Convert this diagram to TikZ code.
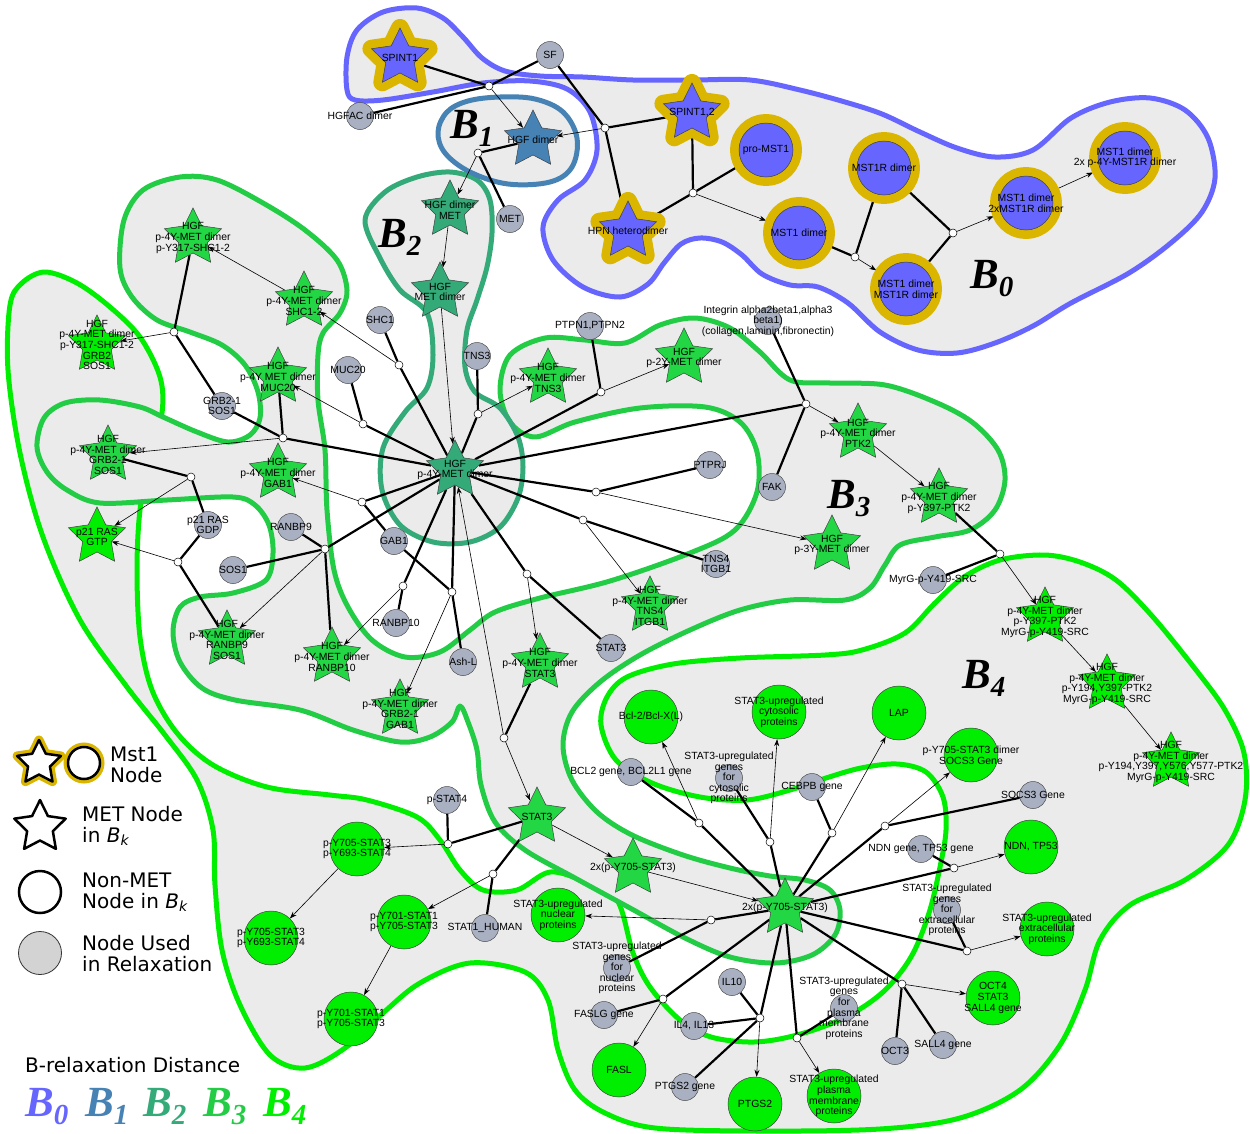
\documentclass[tikz,border=0pt]{standalone}
\usepackage{fontspec}
\setmainfont{Liberation Sans}
\newfontfamily\legfont{DejaVu Sans}
\newfontfamily\bfam{Liberation Serif}
\usetikzlibrary{shapes.geometric,arrows.meta}
\definecolor{blobG}{HTML}{EBEBEB}
\definecolor{cB0}{HTML}{6666FF}
\definecolor{cB1}{HTML}{4682B4}
\definecolor{cB2}{HTML}{33AA77}
\definecolor{cB3}{HTML}{22CC44}
\definecolor{fB3}{HTML}{22D644}
\definecolor{cB4}{HTML}{00EE00}
\definecolor{goldC}{HTML}{DAB600}
\definecolor{greyN}{HTML}{A9B0C1}
\definecolor{legG}{HTML}{D3D3D3}
\pgfdeclarelayer{blobs}
\pgfdeclarelayer{edges}
\pgfsetlayers{blobs,edges,main}
\newcommand\lblfont{\fontsize{10.4}{10.6}\selectfont}
\newcommand\Bsub[1]{{\fontsize{43}{43}\selectfont B}\raisebox{-8pt}{\fontsize{29}{29}\selectfont #1}}
\tikzset{
 txt/.style={font=\lblfont, align=center, inner sep=0pt, text=black},
 lab/.style={label={[txt]center:#1}},
 starB/.style={star, star points=5, star point ratio=2.0, minimum size=60pt, inner sep=0pt, draw=black!75, line width=0.5pt, fill=#1},
 circB/.style={circle, minimum size=54pt, inner sep=0pt, draw=black!75, line width=0.5pt, fill=#1},
 mst/.style={preaction={draw=goldC, line width=18pt, line join=round}, outer sep=8pt},
 gnode/.style={circle, minimum size=27pt, inner sep=0pt, draw=black!70, line width=0.5pt, fill=greyN},
 jn/.style={circle, minimum size=8pt, inner sep=0pt, draw=black, line width=0.5pt, fill=white},
 react/.style={line width=2.2pt, draw=black},
 prod/.style={-{Stealth[length=7pt,width=5pt]}, line width=0.6pt, draw=black},
 blob/.style={fill=blobG, draw=#1, line width=5pt, line join=round},
 blab/.style={inner sep=0pt, anchor=base west, font=\bfam\bfseries\itshape},
 legtxt/.style={inner sep=0pt, anchor=west, align=left, font=\legfont\fontsize{20}{21}\selectfont},
}
\begin{document}
\begin{tikzpicture}[x=1pt,y=-1pt]
\useasboundingbox (0,0) rectangle (1250,1133);

% ---------------- blobs ----------------
\begin{pgfonlayer}{blobs}
% B4
\draw[blob=cB4] plot[smooth cycle, tension=0.55] coordinates {
(150,460) (140,510) (137,570) (140,637) (152,690) (177,733) (213,765) (267,787) (330,795) (367,800)
(417,817) (440,840) (460,870) (483,890) (517,890) (550,872) (585,882) (617,900) (633,953) (650,987)
(680,1020) (711,1037) (754,1042) (797,1035) (844,1018) (883,992) (911,957) (929,913) (940,867) (946,830)
(943,797) (926,772) (897,764) (861,768) (826,778) (790,790) (747,800) (700,797) (652,783) (616,760)
(601,725) (607,697) (627,677) (673,664) (740,658) (825,655) (862,650) (905,633) (935,603) (964,577)
(1000,560) (1044,555) (1080,562) (1116,580) (1153,617) (1196,670) (1225,710) (1244,753) (1245,800) (1228,845)
(1185,880) (1130,905) (1100,940) (1085,990) (1060,1045) (1020,1090) (960,1118) (880,1129) (760,1131) (655,1128)
(605,1113) (575,1090) (558,1050) (548,1000) (525,972) (470,963) (420,983) (383,1013) (345,1048) (305,1068)
(270,1055) (240,1005) (222,950) (215,885) (213,830) (197,780) (165,735) (127,687) (80,620) (43,537)
(20,453) (8,370) (10,305) (22,283) (45,272) (77,283) (110,307) (140,337) (160,377) (162,413)};
% B3
\draw[blob=cB3] plot[smooth cycle, tension=0.55] coordinates {
(460,706) (468,722) (477,750) (481,785) (495,822) (525,850) (575,878) (630,908) (685,938) (730,957)
(775,963) (812,955) (835,935) (840,910) (830,890) (805,880) (770,876) (730,868) (683,855) (632,835)
(597,812) (572,780) (563,745) (572,712) (600,682) (640,655) (690,630) (740,610) (790,600) (845,600)
(870,588) (885,565) (900,545) (935,537) (970,530) (995,510) (1005,480) (998,450) (972,422) (935,402)
(885,385) (830,383) (790,380) (760,352) (730,328) (695,318) (660,325) (625,343) (585,340) (545,338)
(510,355) (500,390) (510,422) (535,437) (575,422) (640,408) (705,407) (740,422) (757,452) (757,492)
(735,530) (690,553) (610,581) (540,598) (495,612) (470,630) (440,652) (405,657) (372,640) (348,607)
(334,570) (327,510) (325,450) (318,400) (318,355) (323,333) (340,313) (347,290) (337,260) (305,230)
(263,203) (217,180) (180,177) (143,190) (124,220) (120,268) (132,297) (157,320) (190,332) (222,345)
(245,365) (258,392) (260,418) (250,435) (228,442) (197,432) (163,417) (140,407) (100,400) (65,403)
(44,418) (37,447) (47,472) (67,490) (100,503) (167,500) (233,497) (255,505) (269,525) (273,553)
(266,580) (233,593) (200,597) (180,607) (173,632) (180,662) (202,688) (235,700) (300,710) (353,730)
(400,742) (430,737) (452,722)};
% B2
\draw[blob=cB2] plot[smooth cycle, tension=0.55] coordinates {
(450,172) (477,180) (490,200) (492,233) (487,267) (477,300) (467,330) (465,367) (475,392) (500,408)
(518,437) (523,467) (518,498) (500,527) (470,542) (433,542) (400,525) (382,490) (383,448) (405,412)
(427,388) (433,355) (427,313) (400,290) (380,258) (365,220) (385,192) (417,177)};
% B1
\draw[blob=cB1] plot[smooth cycle, tension=0.6] coordinates {
(438,132) (447,112) (468,101) (500,97) (535,99) (563,112) (577,138) (572,167) (550,182) (508,184)
(470,172) (445,153)};
% B0
\draw[blob=cB0] plot[smooth cycle, tension=0.55] coordinates {
(347,90) (347,57) (357,30) (383,12) (417,8) (443,18) (463,37) (482,58) (505,71) (540,76)
(583,77) (633,80) (692,80) (750,80) (800,90) (845,102) (882,114) (920,132) (957,148) (995,157)
(1033,150) (1071,118) (1110,102) (1150,98) (1185,110) (1208,138) (1215,178) (1202,212) (1172,242) (1129,273)
(1071,303) (1033,326) (995,343) (957,353) (918,350) (880,332) (848,303) (818,287) (790,285) (762,274)
(742,255) (722,242) (700,238) (681,244) (664,263) (648,284) (620,297) (583,287) (553,260) (543,227)
(558,200) (585,180) (597,150) (590,112) (567,89) (530,81) (483,83) (433,92) (383,100) (355,100)};
\end{pgfonlayer}

% ---------------- B labels ----------------
\node[blab] (lb0) at (970,288) {\Bsub{0}};
\node[blab] (lb1) at (450,138) {\Bsub{1}};
\node[blab] (lb2) at (378,247) {\Bsub{2}};
\node[blab] (lb3) at (827,508) {\Bsub{3}};
\node[blab] (lb4) at (962,688) {\Bsub{4}};

% ---------------- B0 nodes ----------------
\node[starB=cB0, mst, lab={SPINT1}] (spint1) at (400,58) {};
\node[starB=cB0, mst, lab={SPINT1,2}] (spint12) at (692,113) {};
\node[starB=cB0, mst, lab={HPN heterodimer}] (hpn) at (628,231) {};
\node[circB=cB0, mst, lab={pro-MST1}] (promst1) at (766,150) {};
\node[circB=cB0, mst, lab={MST1R dimer}] (mst1r) at (884,168) {};
\node[circB=cB0, mst, lab={MST1 dimer}] (mst1) at (799,233) {};
\node[circB=cB0, mst, lab={MST1 dimer\\MST1R dimer}] (mst1mst1r) at (906,289) {};
\node[circB=cB0, mst, lab={MST1 dimer\\2xMST1R dimer}] (mst1x2) at (1026,203) {};
\node[circB=cB0, mst, lab={MST1 dimer\\2x p-4Y-MST1R dimer}] (mst1p4y) at (1125,158) {};

% ---------------- B1 / B2 ----------------
\node[starB=cB1, lab={HGF dimer}] (hgfd) at (533,140) {};
\node[starB=cB2, lab={HGF dimer\\MET}] (hdm) at (450,210) {};
\node[starB=cB2, lab={HGF\\MET dimer}] (hmd) at (440,292) {};
\node[starB=cB2, lab={HGF\\p-4Y-MET dimer}] (hub) at (455,470) {};

% ---------------- B3 stars ----------------
\node[starB=fB3, lab={HGF\\p-4Y-MET dimer\\p-Y317-SHC1-2}] (sshc) at (193,238) {};
\node[starB=fB3, lab={HGF\\p-4Y-MET dimer\\SHC1-2}] (sshc12) at (304,301) {};
\node[starB=fB3, lab={HGF\\p-4Y MET dimer\\MUC20}] (smuc) at (278,377) {};
\node[starB=fB3, lab={HGF\\p-4Y-MET dimer\\GAB1}] (sgab1) at (278,473) {};
\node[starB=fB3, lab={HGF\\p-4Y-MET dimer\\GRB2-1\\SOS1}] (sgrb2sos) at (108,455) {};
\node[starB=fB3, lab={HGF\\p-4Y-MET dimer\\RANBP9\\SOS1}] (sranbp9) at (227,640) {};
\node[starB=fB3, lab={HGF\\p-4Y-MET dimer\\RANBP10}] (sranbp10) at (332,657) {};
\node[starB=fB3, lab={HGF\\p-4Y-MET dimer\\GRB2-1\\GAB1}] (sgrb2gab) at (400,709) {};
\node[starB=fB3, lab={HGF\\p-4Y-MET dimer\\TNS3}] (stns3) at (548,378) {};
\node[starB=fB3, lab={HGF\\p-2Y-MET dimer}] (sp2y) at (684,358) {};
\node[starB=fB3, lab={HGF\\p-4Y-MET dimer\\PTK2}] (sptk2) at (858,433) {};
\node[starB=fB3, lab={HGF\\p-4Y-MET dimer\\p-Y397-PTK2}] (sy397) at (939,498) {};
\node[starB=fB3, lab={HGF\\p-3Y-MET dimer}] (sp3y) at (832,545) {};
\node[starB=fB3, lab={HGF\\p-4Y-MET dimer\\TNS4\\ITGB1}] (stns4) at (650,606) {};
\node[starB=fB3, lab={HGF\\p-4Y-MET dimer\\STAT3}] (sstat3) at (540,663) {};
\node[starB=fB3, lab={STAT3}] (stat3s) at (537,817) {};
\node[starB=fB3, lab={2x(p-Y705-STAT3)}] (dimer1) at (633,868) {};
\node[starB=fB3, lab={2x(p-Y705-STAT3)}] (hub2) at (785,908) {};

% ---------------- B4 stars ----------------
\node[starB=cB4, lab={HGF\\p-4Y-MET dimer\\p-Y317-SHC1-2\\GRB2\\SOS1}] (s97) at (97,345) {};
\node[starB=cB4, lab={p21 RAS\\GTP}] (p21gtp) at (97,537) {};
\node[starB=cB4, lab={HGF\\p-4Y-MET dimer\\p-Y397-PTK2\\MyrG-p-Y419-SRC}] (s1045) at (1045,617) {};
\node[starB=cB4, lab={HGF\\p-4Y-MET dimer\\p-Y194,Y397-PTK2\\MyrG-p-Y419-SRC}] (s1105) at (1107,684) {};
\node[starB=cB4, lab={HGF\\p-4Y-MET dimer\\p-Y194,Y397,Y576,Y577-PTK2\\MyrG-p-Y419-SRC}] (s1172) at (1171,762) {};

% ---------------- B4 circles ----------------
\node[circB=cB4, lab={p-Y705-STAT3\\p-Y693-STAT4}] (p1) at (357,849) {};
\node[circB=cB4, lab={p-Y705-STAT3\\p-Y693-STAT4}] (p2) at (271,938) {};
\node[circB=cB4, lab={p-Y701-STAT1\\p-Y705-STAT3}] (p3) at (404,922) {};
\node[circB=cB4, lab={p-Y701-STAT1\\p-Y705-STAT3}] (p4) at (351,1019) {};
\node[circB=cB4, lab={STAT3-upregulated\\nuclear\\proteins}] (nucp) at (558,915) {};
\node[circB=cB4, lab={Bcl-2/Bcl-X(L)}] (bcl) at (651,717) {};
\node[circB=cB4, lab={STAT3-upregulated\\cytosolic\\proteins}] (cytp) at (779,712) {};
\node[circB=cB4, lab={LAP}] (lap) at (899,713) {};
\node[circB=cB4, lab={p-Y705-STAT3 dimer\\SOCS3 Gene}] (socsd) at (971,755) {};
\node[circB=cB4, lab={NDN, TP53}] (ndn) at (1031,847) {};
\node[circB=cB4, lab={STAT3-upregulated\\extracellular\\proteins}] (extp) at (1047,929) {};
\node[circB=cB4, lab={OCT4\\STAT3\\SALL4 gene}] (oct4) at (993,998) {};
\node[circB=cB4, lab={FASL}] (fasl) at (619,1070) {};
\node[circB=cB4, lab={PTGS2}] (ptgs2) at (755,1104) {};
\node[circB=cB4, lab={STAT3-upregulated\\plasma\\membrane\\proteins}] (plap) at (834,1096) {};

% ---------------- grey nodes ----------------
\node[gnode, lab={SF}] (sf) at (550,55) {};
\node[gnode, lab={HGFAC dimer}] (hgfac) at (360,116) {};
\node[gnode, lab={MET}] (met) at (510,219) {};
\node[gnode, lab={SHC1}] (shc1) at (380,320) {};
\node[gnode, lab={MUC20}] (muc20) at (348,370) {};
\node[gnode, lab={TNS3}] (tns3g) at (477,356) {};
\node[gnode, lab={PTPN1,PTPN2}] (ptpn) at (590,326) {};
\node[gnode, lab={Integrin alpha2beta1,alpha3\\beta1)\\(collagen,laminin,fibronectin)}] (integ) at (768,321) {};
\node[gnode, lab={GRB2-1\\SOS1}] (grb2sos) at (222,406) {};
\node[gnode, lab={p21 RAS\\GDP}] (p21gdp) at (208,525) {};
\node[gnode, lab={SOS1}] (sos1) at (233,570) {};
\node[gnode, lab={RANBP9}] (ranbp9) at (291,527) {};
\node[gnode, lab={GAB1}] (gab1) at (394,541) {};
\node[gnode, lab={RANBP10}] (ranbp10) at (396,623) {};
\node[gnode, lab={Ash-L}] (ashl) at (463,662) {};
\node[gnode, lab={STAT3}] (stat3g) at (611,648) {};
\node[gnode, lab={TNS4\\ITGB1}] (tns4g) at (716,564) {};
\node[gnode, lab={PTPRJ}] (ptprj) at (710,465) {};
\node[gnode, lab={FAK}] (fak) at (772,487) {};
\node[gnode, lab={MyrG-p-Y419-SRC}] (myrg) at (933,580) {};
\node[gnode, lab={p-STAT4}] (pstat4) at (447,800) {};
\node[gnode, lab={STAT1\_HUMAN}] (stat1h) at (485,928) {};
\node[gnode, lab={BCL2 gene, BCL2L1 gene}] (bcl2g) at (631,772) {};
\node[gnode, lab={STAT3-upregulated\\genes\\for\\cytosolic\\proteins}] (gcyto) at (729,778) {};
\node[gnode, lab={CEBPB gene}] (cebpb) at (812,787) {};
\node[gnode, lab={SOCS3 Gene}] (socs3g) at (1033,795) {};
\node[gnode, lab={NDN gene, TP53 gene}] (ndng) at (921,849) {};
\node[gnode, lab={STAT3-upregulated\\genes\\for\\extracellular\\proteins}] (gextra) at (947,910) {};
\node[gnode, lab={STAT3-upregulated\\genes\\for\\nuclear\\proteins}] (gnuc) at (617,968) {};
\node[gnode, lab={FASLG gene}] (faslg) at (604,1015) {};
\node[gnode, lab={IL10}] (il10) at (732,982) {};
\node[gnode, lab={IL4, IL13}] (il4) at (694,1026) {};
\node[gnode, lab={PTGS2 gene}] (ptgs2g) at (685,1087) {};
\node[gnode, lab={OCT3}] (oct3) at (895,1051) {};
\node[gnode, lab={SALL4 gene}] (sall4) at (943,1045) {};
\node[gnode, lab={STAT3-upregulated\\genes\\for\\plasma\\membrane\\proteins}] (gplasma) at (844,1008) {};

% ---------------- junctions ----------------
\node[jn] (j1) at (489,86) {};
\node[jn] (j2) at (605,128) {};
\node[jn] (j3) at (478,153) {};
\node[jn] (j4) at (693,193) {};
\node[jn] (j5) at (855,257) {};
\node[jn] (j6) at (953,233) {};
\node[jn] (jA) at (174,332) {};
\node[jn] (jB) at (399,365) {};
\node[jn] (jC) at (363,424) {};
\node[jn] (jD) at (283,438) {};
\node[jn] (jE) at (191,477) {};
\node[jn] (jF) at (178,562) {};
\node[jn] (jG) at (362,502) {};
\node[jn] (jH) at (325,549) {};
\node[jn] (jI) at (403,586) {};
\node[jn] (jJ) at (452,592) {};
\node[jn] (jK) at (478,414) {};
\node[jn] (jL) at (601,392) {};
\node[jn] (jM) at (806,404) {};
\node[jn] (jN) at (596,492) {};
\node[jn] (jO) at (583,520) {};
\node[jn] (jP) at (527,574) {};
\node[jn] (jQ) at (504,738) {};
\node[jn] (jSrc) at (1000,554) {};
\node[jn] (jSt4) at (448,844) {};
\node[jn] (jSt1) at (493,874) {};
\node[jn] (jBcl) at (699,823) {};
\node[jn] (jCyto) at (770,842) {};
\node[jn] (jLap) at (832,833) {};
\node[jn] (jSocs) at (885,826) {};
\node[jn] (jNdn) at (954,868) {};
\node[jn] (jExt) at (967,951) {};
\node[jn] (jOct) at (902,984) {};
\node[jn] (jPla) at (797,1038) {};
\node[jn] (jIl) at (760,1018) {};
\node[jn] (jFas) at (663,999) {};
\node[jn] (jNuc) at (711,920) {};

% ---------------- edges ----------------
\begin{pgfonlayer}{edges}
\draw[react] (spint1)--(j1); \draw[react] (hgfac)--(j1); \draw[react] (sf)--(j1); \draw[prod] (j1)--(hgfd);
\draw[react] (sf)--(j2); \draw[react] (hpn)--(j2); \draw[react] (spint12)--(j2); \draw[prod] (j2)--(hgfd);
\draw[react] (hgfd)--(j3); \draw[react] (met)--(j3); \draw[prod] (j3)--(hdm);
\draw[prod] (hdm)--(hmd); \draw[prod] (hmd)--(hub);
\draw[react] (spint12)--(j4); \draw[react] (hpn)--(j4); \draw[react] (promst1)--(j4); \draw[prod] (j4)--(mst1);
\draw[react] (mst1)--(j5); \draw[react] (mst1r)--(j5); \draw[prod] (j5)--(mst1mst1r);
\draw[react] (mst1r)--(j6); \draw[react] (mst1mst1r)--(j6); \draw[prod] (j6)--(mst1x2);
\draw[prod] (mst1x2)--(mst1p4y);
% hub reactions
\draw[react] (shc1)--(jB); \draw[react] (hub)--(jB); \draw[prod] (jB)--(sshc12);
\draw[prod] (sshc12)--(sshc);
\draw[react] (sshc)--(jA); \draw[react] (grb2sos)--(jA); \draw[prod] (jA)--(s97);
\draw[react] (muc20)--(jC); \draw[react] (hub)--(jC); \draw[prod] (jC)--(smuc);
\draw[react] (smuc)--(jD); \draw[react] (grb2sos)--(jD); \draw[react] (hub)--(jD); \draw[prod] (jD)--(sgrb2sos);
\draw[react] (sgrb2sos)--(jE); \draw[react] (p21gdp)--(jE); \draw[prod] (jE)--(p21gtp);
\draw[react] (p21gdp)--(jF); \draw[react] (sranbp9)--(jF); \draw[prod] (jF)--(p21gtp);
\draw[react] (hub)--(jG); \draw[react] (gab1)--(jG); \draw[prod] (jG)--(sgab1);
\draw[react] (hub)--(jH); \draw[react] (ranbp9)--(jH); \draw[react] (sos1)--(jH); \draw[react] (sranbp10)--(jH); \draw[prod] (jH)--(sranbp9);
\draw[react] (hub)--(jI); \draw[react] (ranbp10)--(jI); \draw[prod] (jI)--(sranbp10);
\draw[react] (hub)--(jJ); \draw[react] (gab1)--(jJ); \draw[react] (ashl)--(jJ); \draw[prod] (jJ)--(sgrb2gab);
\draw[react] (tns3g)--(jK); \draw[react] (hub)--(jK); \draw[prod] (jK)--(stns3);
\draw[react] (ptpn)--(jL); \draw[react] (hub)--(jL); \draw[prod] (jL)--(sp2y);
\draw[react] (integ)--(jM); \draw[react] (hub)--(jM); \draw[react] (fak)--(jM); \draw[prod] (jM)--(sptk2);
\draw[prod] (sptk2)--(sy397);
\draw[react] (ptprj)--(jN); \draw[react] (hub)--(jN); \draw[prod] (jN)--(sp3y);
\draw[react] (hub)--(jO); \draw[react] (tns4g)--(jO); \draw[prod] (jO)--(stns4);
\draw[react] (hub)--(jP); \draw[react] (stat3g)--(jP); \draw[prod] (jP)--(sstat3);
\draw[react] (sstat3)--(jQ); \draw[prod] (jQ)--(hub); \draw[prod] (jQ)--(stat3s);
\draw[react] (sy397)--(jSrc); \draw[react] (myrg)--(jSrc); \draw[prod] (jSrc)--(s1045);
\draw[prod] (s1045)--(s1105); \draw[prod] (s1105)--(s1172);
\draw[react] (pstat4)--(jSt4); \draw[react] (stat3s)--(jSt4); \draw[prod] (jSt4)--(p1);
\draw[react] (stat3s)--(jSt1); \draw[react] (stat1h)--(jSt1); \draw[prod] (jSt1)--(p3);
\draw[prod] (stat3s)--(dimer1); \draw[prod] (p1)--(p2); \draw[prod] (p3)--(p4); \draw[prod] (dimer1)--(hub2);
% hub2 reactions
\draw[react] (bcl2g)--(jBcl); \draw[react] (hub2)--(jBcl); \draw[prod] (jBcl)--(bcl);
\draw[react] (gcyto)--(jCyto); \draw[react] (hub2)--(jCyto); \draw[prod] (jCyto)--(cytp);
\draw[react] (cebpb)--(jLap); \draw[react] (hub2)--(jLap); \draw[prod] (jLap)--(lap);
\draw[react] (socs3g)--(jSocs); \draw[react] (hub2)--(jSocs); \draw[prod] (jSocs)--(socsd);
\draw[react] (ndng)--(jNdn); \draw[react] (hub2)--(jNdn); \draw[prod] (jNdn)--(ndn);
\draw[react] (gextra)--(jExt); \draw[react] (hub2)--(jExt); \draw[prod] (jExt)--(extp);
\draw[react] (hub2)--(jOct); \draw[react] (oct3)--(jOct); \draw[react] (sall4)--(jOct); \draw[prod] (jOct)--(oct4);
\draw[react] (hub2)--(jPla); \draw[react] (gplasma)--(jPla); \draw[prod] (jPla)--(plap);
\draw[react] (hub2)--(jIl); \draw[react] (il10)--(jIl); \draw[react] (il4)--(jIl); \draw[react] (ptgs2g)--(jIl); \draw[prod] (jIl)--(ptgs2);
\draw[react] (hub2)--(jFas); \draw[react] (faslg)--(jFas); \draw[prod] (jFas)--(fasl);
\draw[react] (hub2)--(jNuc); \draw[react] (gnuc)--(jNuc); \draw[prod] (jNuc)--(nucp);
\end{pgfonlayer}

% ---------------- legend ----------------
\node[star, star points=5, star point ratio=2.0, minimum size=46pt, inner sep=0pt, fill=white, draw=black, line width=2.5pt, line join=round, preaction={draw=goldC, line width=9pt, line join=round}] (lgs1) at (39,763) {};
\node[circle, minimum size=32pt, inner sep=0pt, fill=white, draw=black, line width=2.5pt, preaction={draw=goldC, line width=9pt}] (lgc1) at (84,763) {};
\node[legtxt] (lgt1) at (110,765) {Mst1\\Node};
\node[star, star points=5, star point ratio=2.0, minimum size=54pt, inner sep=0pt, fill=white, draw=black, line width=2.5pt, line join=round] (lgs2) at (40,827) {};
\node[legtxt] (lgt2) at (82,826) {MET Node\\in \textit{B}\textsubscript{\textit{k}}};
\node[circle, minimum size=42pt, inner sep=0pt, fill=white, draw=black, line width=2.5pt] (lgc2) at (40,892) {};
\node[legtxt] (lgt3) at (82,892) {Non-MET\\Node in \textit{B}\textsubscript{\textit{k}}};
\node[circle, minimum size=43pt, inner sep=0pt, fill=legG, draw=black!80, line width=0.8pt] (lgc3) at (40,953) {};
\node[legtxt] (lgt4) at (82,954) {Node Used\\in Relaxation};
\node[legtxt] (lgt5) at (25,1065) {B-relaxation Distance};
\node[blab, text=cB0] (lgb0) at (25,1116) {\Bsub{0}};
\node[blab, text=cB1] (lgb1) at (85,1116) {\Bsub{1}};
\node[blab, text=cB2] (lgb2) at (143,1116) {\Bsub{2}};
\node[blab, text=cB3] (lgb3) at (203,1116) {\Bsub{3}};
\node[blab, text=cB4] (lgb4) at (263,1116) {\Bsub{4}};
\end{tikzpicture}
\end{document}
